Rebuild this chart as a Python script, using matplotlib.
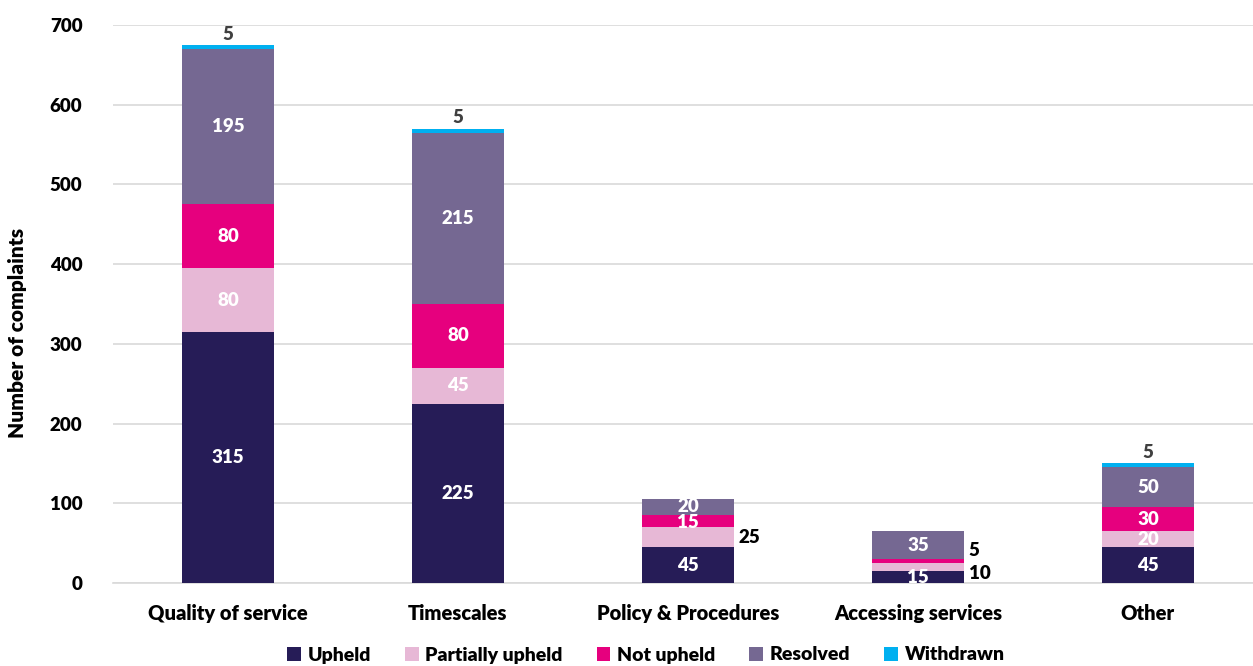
import matplotlib
matplotlib.use("Agg")
import matplotlib.pyplot as plt
import numpy as np

categories = ["Quality of service", "Timescales", "Policy & Procedures", "Accessing services", "Other"]
series_names = ["Upheld", "Partially upheld", "Not upheld", "Resolved", "Withdrawn"]
upheld = [315, 225, 45, 15, 45]
partially_upheld = [80, 45, 25, 10, 20]
not_upheld = [80, 80, 15, 5, 30]
resolved = [195, 215, 20, 35, 50]
withdrawn = [5, 5, 0, 0, 5]
y_ticks = [0, 100, 200, 300, 400, 500, 600, 700]

colors = ["#261c57", "#e7b8d6", "#e6007e", "#756892", "#00b0f0"]
series = [upheld, partially_upheld, not_upheld, resolved, withdrawn]

plt.rcParams['font.family'] = ['Lato', 'DejaVu Sans']
W = "heavy"

fig = plt.figure(figsize=(12.53, 6.66), dpi=100)
ax = fig.add_axes([113 / 1253, 83 / 666, 1 - 113 / 1253, (583 - 25) / 666])

x = np.arange(len(categories))
width = 0.4
bottom = np.zeros(len(categories))
stacks = []
for vals, col, name in zip(series, colors, series_names):
    ax.bar(x, vals, width, bottom=bottom, color=col, label=name, zorder=3, linewidth=0)
    stacks.append((vals, bottom.copy()))
    bottom += np.array(vals)

# labels placed beside the bar for thin segments: (series, category) -> vertical nudge
outside = {(1, 2): 0, (1, 3): -8, (2, 3): 13}
# small vertical nudges for crowded inside labels
nudge = {(2, 2): -1.5, (3, 2): 1.5}

for si, (vals, bot) in enumerate(stacks):
    for i, v in enumerate(vals):
        if v == 0:
            continue
        mid = bot[i] + v / 2
        if si == 4:
            ax.text(x[i], bot[i] + v + 3, str(v), ha="center", va="bottom",
                    color="#404040", fontsize=13.5, fontweight=W)
        elif (si, i) in outside:
            ax.text(x[i] + width / 2 + 0.02, mid + outside[(si, i)], str(v),
                    ha="left", va="center", color="black", fontsize=13.5, fontweight=W)
        else:
            ax.text(x[i], mid + nudge.get((si, i), 0), str(v), ha="center", va="center",
                    color="white", fontsize=13.5, fontweight=W, zorder=4)

ax.set_xlim(-0.5, 4.457)
ax.set_ylim(0, 700)
ax.set_yticks(y_ticks)
ax.set_yticklabels([str(t) for t in y_ticks], fontsize=13.5, fontweight=W)
ax.set_xticks(x)
ax.set_xticklabels(categories, fontsize=14.5, fontweight=W)
ax.tick_params(axis="both", length=0)
ax.tick_params(axis="x", pad=15)
ax.tick_params(axis="y", pad=22)
ax.yaxis.grid(True, color="#d9d9d9", linewidth=1.2, zorder=0)
for s in ["top", "right", "left"]:
    ax.spines[s].set_visible(False)
ax.spines["bottom"].set_color("#d9d9d9")
ax.spines["bottom"].set_linewidth(1.2)

fig.text(18 / 1253, 1 - 333 / 666, "Number of complaints", rotation=90,
         ha="center", va="center", fontsize=15, fontweight=W)

fig.legend(loc="center", bbox_to_anchor=(646 / 1253, 1 - 655 / 666), ncol=5,
           frameon=False, prop={"size": 14, "weight": W},
           handlelength=0.7, handleheight=0.7, handletextpad=0.35,
           columnspacing=1.75)

fig.savefig("out.png", dpi=100)
